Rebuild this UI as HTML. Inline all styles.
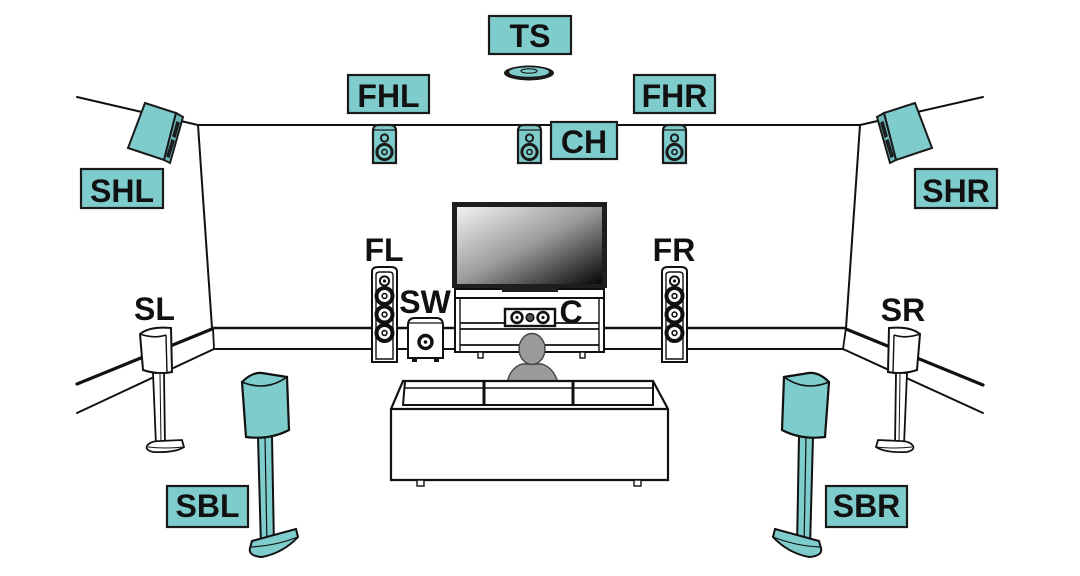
<!DOCTYPE html>
<html>
<head>
<meta charset="utf-8">
<style>
  html,body{margin:0;padding:0;background:#fff;}
  svg{display:block;}
  text{font-family:"Liberation Sans",Arial,sans-serif;font-weight:bold;fill:#111;}
</style>
</head>
<body>
<svg width="1080" height="576" viewBox="0 0 1080 576" xmlns="http://www.w3.org/2000/svg">
  <defs>
    <linearGradient id="scr" x1="0" y1="0" x2="1" y2="1">
      <stop offset="0" stop-color="#f2f2f2"/>
      <stop offset="0.5" stop-color="#9a9a9a"/>
      <stop offset="1" stop-color="#050505"/>
    </linearGradient>
    <g id="ceilspk">
      <path d="M0,38 L0,6 Q0,0 6,0 L17,0 Q23,0 23,6 L23,38 Z" fill="#7fcccd" stroke="#1a1a1a" stroke-width="2.2"/>
      <line x1="1" y1="5" x2="22" y2="5" stroke="#1a1a1a" stroke-width="1.2"/>
      <circle cx="11.5" cy="13" r="3.6" fill="#7fcccd" stroke="#1a1a1a" stroke-width="2"/>
      <circle cx="11.5" cy="27" r="7.6" fill="#7fcccd" stroke="#1a1a1a" stroke-width="3"/>
      <circle cx="11.5" cy="27" r="2.6" fill="#7fcccd" stroke="#1a1a1a" stroke-width="1.6"/>
    </g>
    <g id="tower">
      <path d="M0,95 L0,5 Q0,0 6,0 L19,0 Q25,0 25,5 L25,95 Z" fill="#fff" stroke="#111" stroke-width="2"/>
      <path d="M4,92 L4,8 Q4,5 8,5 L17,5 Q21,5 21,8 L21,92 Z" fill="none" stroke="#111" stroke-width="1.4"/>
      <circle cx="12.5" cy="14" r="4.6" fill="#fff" stroke="#111" stroke-width="2"/>
      <circle cx="12.5" cy="14" r="1.6" fill="#111"/>
      <circle cx="12.5" cy="29" r="8" fill="#fff" stroke="#111" stroke-width="4"/>
      <circle cx="12.5" cy="29" r="2.4" fill="#fff" stroke="#111" stroke-width="1.6"/>
      <circle cx="12.5" cy="47.5" r="8" fill="#fff" stroke="#111" stroke-width="4"/>
      <circle cx="12.5" cy="47.5" r="2.4" fill="#fff" stroke="#111" stroke-width="1.6"/>
      <circle cx="12.5" cy="66" r="8" fill="#fff" stroke="#111" stroke-width="4"/>
      <circle cx="12.5" cy="66" r="2.4" fill="#fff" stroke="#111" stroke-width="1.6"/>
    </g>
    <g id="surround">
      <path d="M140,334 Q150,326 171,328 L172,372 Q158,375 143,370 Z" fill="#fff" stroke="#111" stroke-width="2"/>
      <path d="M140,334 Q154,339 166,335" fill="none" stroke="#111" stroke-width="1.6"/>
      <line x1="166" y1="335" x2="167" y2="373" stroke="#111" stroke-width="1.4"/>
      <polygon points="153,373 164,373 165,445 156,445" fill="#fff" stroke="#111" stroke-width="1.8"/>
      <line x1="160" y1="374" x2="161" y2="444" stroke="#111" stroke-width="1"/>
      <path d="M147,446 Q150,441 160,441 L182,440 L184,447 Q175,453 153,452 Q145,450 147,446 Z" fill="#fff" stroke="#111" stroke-width="1.8"/>
      <path d="M148,447 Q165,449 184,447" fill="none" stroke="#111" stroke-width="1"/>
    </g>
    <g id="back">
      <polygon points="258,437 272,436 274,547 261,547" fill="#7fcccd" stroke="#111" stroke-width="2"/>
      <line x1="265" y1="437" x2="267" y2="546" stroke="#111" stroke-width="1.2"/>
      <path d="M252,541 L296,529 L298,537 Q283,553 262,557 Q248,556 250,548 Z" fill="#7fcccd" stroke="#111" stroke-width="2"/>
      <path d="M251,547 Q275,546 298,537" fill="none" stroke="#111" stroke-width="1.2"/>
      <path d="M242,382 Q252,372 262,373 L287,377 L289,430 Q270,440 246,437 Z" fill="#7fcccd" stroke="#111" stroke-width="2.2"/>
      <path d="M242,382 Q266,392 287,377" fill="none" stroke="#111" stroke-width="1.6"/>
    </g>
    <g id="height">
      <polygon points="145,103 176,113 164,160 128,148" fill="#7fcccd" stroke="#1a1a1a" stroke-width="2"/>
      <polygon points="176,113 183,117 170,163 164,160" fill="#6bb8b9" stroke="#1a1a1a" stroke-width="2"/>
      <polygon points="177,122 179,123 175,137 173,136" fill="#2a2a2a" stroke="#1a1a1a" stroke-width="1.5"/>
      <polygon points="172,140 174,141 169,157 167,156" fill="#2a2a2a" stroke="#1a1a1a" stroke-width="1.5"/>
    </g>
  </defs>

  <!-- walls -->
  <g stroke="#111" fill="none" stroke-linecap="round">
    <line x1="77" y1="97" x2="198" y2="125" stroke-width="2"/>
    <line x1="198" y1="125" x2="860" y2="125" stroke-width="2"/>
    <line x1="860" y1="125" x2="983" y2="97" stroke-width="2"/>
    <line x1="198" y1="125" x2="212" y2="328" stroke-width="2"/>
    <line x1="860" y1="125" x2="846" y2="328" stroke-width="2"/>
    <!-- baseboard -->
    <line x1="212" y1="328" x2="846" y2="328" stroke-width="2.4"/>
    <line x1="214" y1="349" x2="843" y2="349" stroke-width="2"/>
    <line x1="213" y1="328" x2="214" y2="349" stroke-width="1.8"/>
    <line x1="846" y1="328" x2="843" y2="349" stroke-width="1.8"/>
    <line x1="212" y1="329" x2="77" y2="384" stroke-width="3.2"/>
    <line x1="214" y1="349" x2="77" y2="413" stroke-width="2"/>
    <line x1="846" y1="329" x2="983" y2="385" stroke-width="3.2"/>
    <line x1="843" y1="349" x2="983" y2="413" stroke-width="2"/>
  </g>

  <!-- height speakers on wall corners -->
  <use href="#height"/>
  <use href="#height" transform="translate(1060,0) scale(-1,1)"/>

  <!-- ceiling/front height speakers -->
  <use href="#ceilspk" x="373" y="125"/>
  <use href="#ceilspk" x="518" y="125"/>
  <use href="#ceilspk" x="663" y="125"/>

  <!-- TS speaker -->
  <ellipse cx="529" cy="73" rx="25" ry="7.5" fill="#1a1a1a"/>
  <ellipse cx="529" cy="72" rx="20" ry="4.8" fill="#7fcccd"/>
  <ellipse cx="529" cy="71" rx="8" ry="2.2" fill="none" stroke="#1a1a1a" stroke-width="1.2"/>

  <!-- TV -->
  <rect x="452" y="202" width="155" height="86" fill="#1e1e1e"/>
  <rect x="457" y="207" width="145" height="77" fill="url(#scr)"/>
  <polygon points="500,288 560,288 556,294 504,294" fill="#1e1e1e"/>

  <!-- cabinet -->
  <rect x="455" y="298" width="149" height="54" fill="#fff" stroke="#111" stroke-width="2"/>
  <rect x="455" y="289" width="149" height="9" fill="#fff" stroke="#111" stroke-width="2"/>
  <rect x="502" y="288" width="56" height="4" fill="#1e1e1e"/>
  <line x1="460" y1="298" x2="460" y2="352" stroke="#111" stroke-width="1.4"/>
  <line x1="599" y1="298" x2="599" y2="352" stroke="#111" stroke-width="1.4"/>
  <line x1="460" y1="323" x2="599" y2="323" stroke="#111" stroke-width="1.8"/>
  <line x1="460" y1="329" x2="599" y2="329" stroke="#111" stroke-width="1.8"/>
  <line x1="460" y1="345" x2="599" y2="345" stroke="#111" stroke-width="1.8"/>
  <rect x="478" y="352" width="5" height="6" fill="#fff" stroke="#111" stroke-width="1.4"/>
  <rect x="580" y="352" width="5" height="6" fill="#fff" stroke="#111" stroke-width="1.4"/>

  <!-- center speaker -->
  <rect x="505" y="309" width="50" height="17" fill="#fff" stroke="#111" stroke-width="2.4"/>
  <circle cx="517" cy="317.5" r="5.4" fill="#fff" stroke="#111" stroke-width="2.6"/>
  <circle cx="517" cy="317.5" r="1.6" fill="#111"/>
  <circle cx="543" cy="317.5" r="5.4" fill="#fff" stroke="#111" stroke-width="2.6"/>
  <circle cx="543" cy="317.5" r="1.6" fill="#111"/>
  <circle cx="530" cy="317.5" r="3.8" fill="#555" stroke="#111" stroke-width="1.6"/>

  <!-- front towers -->
  <use href="#tower" x="372" y="267"/>
  <use href="#tower" x="662" y="267"/>

  <!-- subwoofer -->
  <path d="M408,358 L408,325 Q408,318 415,318 L436,318 Q443,318 443,325 L443,358 Z" fill="#fff" stroke="#111" stroke-width="2"/>
  <line x1="409" y1="323" x2="442" y2="323" stroke="#111" stroke-width="1.2"/>
  <circle cx="425.5" cy="342" r="6.5" fill="#fff" stroke="#111" stroke-width="3.4"/>
  <circle cx="425.5" cy="342" r="1.8" fill="#111"/>
  <rect x="412" y="357" width="5" height="5" fill="#111"/>
  <rect x="434" y="357" width="5" height="5" fill="#111"/>

  <!-- person -->
  <path d="M507,383 Q510,368 522,364 L542,364 Q554,368 558,383 Z" fill="#9b9b9b" stroke="#444" stroke-width="1.4"/>
  <ellipse cx="532" cy="349" rx="13" ry="15.5" fill="#9b9b9b" stroke="#444" stroke-width="1.4"/>

  <!-- couch -->
  <polygon points="403,381 653,381 668,409 668,480 391,480 391,409" fill="#fff" stroke="#111" stroke-width="2.2"/>
  <line x1="391" y1="409" x2="668" y2="409" stroke="#111" stroke-width="2.2"/>
  <path d="M405,381 L403,405 L653,405 L653,381" fill="none" stroke="#111" stroke-width="2"/>
  <line x1="405" y1="388" x2="653" y2="388" stroke="#111" stroke-width="1.6"/>
  <line x1="484" y1="381" x2="484" y2="405" stroke="#111" stroke-width="3"/>
  <line x1="573" y1="381" x2="573" y2="405" stroke="#111" stroke-width="3"/>
  <rect x="417" y="480" width="7" height="6" fill="#fff" stroke="#111" stroke-width="1.4"/>
  <rect x="634" y="480" width="7" height="6" fill="#fff" stroke="#111" stroke-width="1.4"/>

  <!-- surround speakers -->
  <use href="#surround"/>
  <use href="#surround" transform="translate(1060,0) scale(-1,1)"/>

  <!-- surround back -->
  <use href="#back"/>
  <use href="#back" transform="translate(1071,0) scale(-1,1)"/>

  <!-- label boxes -->
  <g fill="#7fcccd" stroke="#1a1a1a" stroke-width="2.2">
    <rect x="489" y="16" width="82" height="38"/>
    <rect x="348" y="75" width="81" height="38"/>
    <rect x="634" y="75" width="81" height="38"/>
    <rect x="551" y="122" width="66" height="37"/>
    <rect x="81" y="169" width="82" height="39"/>
    <rect x="915" y="169" width="82" height="39"/>
    <rect x="167" y="486" width="81" height="41"/>
    <rect x="826" y="486" width="81" height="41"/>
  </g>
  <g font-size="32" text-anchor="middle">
    <text x="530" y="47">TS</text>
    <text x="388.5" y="107">FHL</text>
    <text x="674.5" y="107">FHR</text>
    <text x="584" y="153">CH</text>
    <text x="122" y="202">SHL</text>
    <text x="956" y="202">SHR</text>
    <text x="207.5" y="517">SBL</text>
    <text x="866.5" y="517">SBR</text>
    <text x="384" y="261">FL</text>
    <text x="674" y="261">FR</text>
    <text x="425" y="313">SW</text>
    <text x="571" y="323">C</text>
    <text x="154.5" y="320">SL</text>
    <text x="903" y="321">SR</text>
  </g>
</svg>
</body>
</html>
